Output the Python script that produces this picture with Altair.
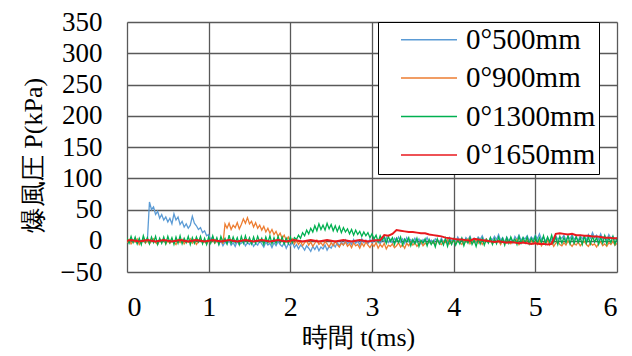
import altair as alt
import pandas as pd

series_names = ["0°500mm", "0°900mm", "0°1300mm", "0°1650mm"]
series_colors = ["#5B9BD5", "#ED7D31", "#00B050", "#E8191E"]

# fine time grid (ms) for the noisy gauges, coarse grid for the smooth 1650 mm trace
time_fine = [round(i * 0.025, 3) for i in range(241)]
time_coarse = [round(i * 0.05, 2) for i in range(121)]

p500 = [2, -3, 4, -1, 3, -4, 1, -2, 4, -3, 2, 62, 50, 54, 42, 47, 36, 42, 33, 38,
        30, 36, 27, 43, 33, 38, 26, 31, 22, 27, 20, 25, 39, 28, 24, 18, 21, 13, 16, 8,
        10, 2, 6, -3, 3, -6, 0, -8, -2, -5, 1, -7, -3, -9, -1, -6, -4, 0, -8, -3,
        -6, -1, -9, -4, -7, 0, -5, -10, -2, -7, -4, -11, -3, -8, -1, -6, -9, -3, -12, -5,
        -8, -2, -11, -6, -13, -7, -10, -15, -8, -12, -17, -9, -14, -8, -16, -10, -13, -7, -15, -9,
        -12, -5, -10, -3, -8, -2, -7, 1, -5, -1, -6, 2, -4, 0, -7, 3, -3, 1, -5, 2,
        -3, 4, -2, 1, -5, 3, -1, 5, -3, 2, -4, 4, 0, 6, -2, 3, -4, 5, -1, 2,
        -3, 4, -2, 3, -5, 2, -1, 5, -3, 1, -4, 3, 0, -2, 4, -3, 2, -4, 5, -1,
        3, -2, 6, 0, 4, -3, 5, 1, 7, -1, 4, -2, 6, 2, 8, 0, 3, -2, 5, 1,
        7, 2, 10, 1, 5, -2, 6, 0, 4, -3, 7, 2, 9, 1, 5, 3, 8, 0, 6, 2,
        9, 3, 11, 2, 6, -1, 5, -4, 3, 1, 8, 2, 6, 4, 9, 1, 7, 3, 10, 2,
        6, 0, 8, 3, 7, 1, 10, 4, 13, 5, 9, 2, 11, 3, 8, 1, 10, 4, 7, 2,
        5]
p900 = [-3, 2, -5, 0, -2, 3, -6, -1, 2, -4, 1, -5, 0, 3, -3, -6, 1, -2, 2, -5,
        0, -4, 3, -2, -6, 1, -3, 2, -5, 0, -2, 3, -4, 1, -6, -1, 2, -3, 0, -5,
        1, -3, 2, -4, 0, -2, 3, -5, 27, 20, 28, 18, 25, 21, 29, 19, 26, 35, 28, 37,
        27, 31, 22, 29, 20, 25, 17, 23, 14, 20, 12, 18, 10, 15, 7, 12, 4, 9, 1, 6,
        -2, 3, -5, 1, -6, -1, -8, -3, 0, -7, -2, -9, -4, 1, -6, -3, -8, -1, -5, -10,
        -3, -8, -1, -6, -10, -4, -7, -2, -9, -5, -11, -3, -8, -6, -12, -4, -9, -2, -7, -11,
        -5, -9, -3, -12, -6, -10, -4, -13, -7, -9, -5, -11, -8, -3, -10, -6, -12, -4, -8, -2,
        -7, -3, -9, -5, -1, -8, -4, -6, 0, -5, -2, -7, 1, -4, -6, -1, -3, 2, -5, -2,
        0, -4, 2, -3, -6, 1, -2, 3, -5, 0, -3, 2, -4, 1, -6, -1, 3, -2, 0, -5,
        2, -3, 0, -6, 1, -4, 3, -2, -5, 0, -3, 2, -6, -1, 1, -4, 3, -3, 0, -5,
        -2, -6, 0, -8, -3, -5, 1, -7, -2, -9, -4, -1, -6, -8, -3, -7, 0, -5, -9, -4,
        -7, -2, -8, -4, -1, -6, -9, -3, -7, -5, -10, -4, -2, -8, -5, -9, -3, -6, -1, -7,
        -4]
p1300 = [5, -4, 7, -3, 6, -5, 4, -6, 8, -2, 5, -5, 6, -3, 7, -6, 4, -4, 6, -5,
         7, -3, 5, -6, 6, -4, 8, -5, 4, -3, 7, -6, 5, -4, 6, -2, 7, -5, 4, -6,
         6, -4, 8, -3, 5, -6, 7, -2, 4, -5, 9, -4, 6, -3, 5, -6, 7, -4, 8, -3,
         5, -5, 6, -4, 7, -2, 4, -6, 6, -3, 8, -5, 5, -4, 7, -3, 6, -5, 4, -4,
         6, -3, 5, 2, 9, 4, 13, 8, 17, 11, 20, 14, 24, 16, 27, 18, 25, 17, 28, 19,
         26, 16, 24, 15, 23, 13, 21, 14, 19, 11, 18, 9, 17, 10, 15, 7, 14, 8, 13, 5,
         11, 3, 9, -2, 8, 1, 6, -4, 7, -1, 5, -6, 4, -3, 6, -7, 3, -2, 5, -8,
         2, -5, 4, -9, 1, -4, 3, -8, 2, -6, 0, -10, 3, -5, 1, -7, 4, -9, 2, -6,
         3, -7, 1, -5, 4, -8, 2, -4, 5, -6, 1, -9, 3, -5, 4, -7, 2, -4, 5, -6,
         3, -5, 6, -3, 4, -7, 5, -4, 6, -2, 3, -6, 7, -4, 5, -3, 6, -5, 4, -2,
         7, -4, 5, -3, 8, -5, 6, -2, 9, -3, 6, -6, 7, -4, 5, -3, 8, -5, 6, -4,
         7, -3, 5, -6, 8, -4, 6, -5, 7, -2, 5, -6, 6, -4, 8, -5, 5, -3, 7, -6,
         4]
p1650 = [0, 1, 0, -1, 0, 1, 0, -1, 0, 1, 0, -1, 0, 1, 0, -1, 0, 1, 0, -1,
         0, 1, 0, -1, 0, 1, 0, -1, 0, 1, 0, -1, 0, 1, 0, -1, 0, 1, 0, -1,
         0, 1, 0, -1, 0, 1, 0, -1, 0, 1, 0, -1, 0, 1, 0, -1, 0, 1, 0, -1,
         0, 1, 1, 9, 8, 11, 17, 16, 15, 14, 14, 13, 12, 12, 10, 9, 8, 7, 5, 4,
         3, 2, 2, 1, 0, 3, 2, 1, 0, -1, -2, -1, -2, -3, -2, -3, -4, -3, -4, -5,
         -4, -5, -5, -6, -5, 11, 12, 11, 10, 11, 9, 9, 8, 8, 7, 7, 6, 5, 5, 4,
         4]

x_ticks = [0, 1, 2, 3, 4, 5, 6]
y_ticks = [-50, 0, 50, 100, 150, 200, 250, 300, 350]

rows = []
for name, times, vals in zip(series_names,
                             [time_fine, time_fine, time_fine, time_coarse],
                             [p500, p900, p1300, p1650]):
    for t, v in zip(times, vals):
        rows.append({"t": t, "P": v, "series": name})
df = pd.DataFrame(rows)

FONT = "'Liberation Serif', 'Times New Roman', serif"

color = alt.Color(
    "series:N",
    scale=alt.Scale(domain=series_names, range=series_colors),
    legend=alt.Legend(
        title=None,
        orient="none",
        legendX=251,
        legendY=0,
        fillColor="white",
        strokeColor="black",
        padding=3.2,
        symbolType="M-8,0H8",
        symbolSize=49,
        symbolStrokeWidth=1.5,
        symbolFillColor="transparent",
        symbolOffset=33.3,
        labelOffset=22.5,
        labelFont=FONT,
        labelFontSize=29,
        labelColor="black",
        rowPadding=8.4,
        labelExpr="datum.label + '  '",
    ),
)

x = alt.X(
    "t:Q",
    scale=alt.Scale(domain=[0, 6], nice=False),
    axis=alt.Axis(
        values=x_ticks, format="d", title="時間 t(ms)", ticks=False, domain=False,
        labelFont=FONT, labelFontSize=28, labelColor="black", labelPadding=21,
        titleFont=FONT, titleFontSize=26, titleFontWeight="normal", titleColor="black",
        titlePadding=3, titleX=231, gridColor="#595959", gridWidth=1.3, gridOpacity=1,
    ),
)
y = alt.Y(
    "P:Q",
    scale=alt.Scale(domain=[-50, 350], nice=False),
    axis=alt.Axis(
        values=y_ticks, title="爆風圧 P(kPa)", ticks=False, domain=False,
        labelFont=FONT, labelFontSize=27, labelColor="black", labelPadding=25,
        titleFont=FONT, titleFontSize=26, titleFontWeight="normal", titleColor="black",
        titlePadding=13, titleY=133, gridColor="#595959", gridWidth=1.3, gridOpacity=1,
    ),
)

layers = []
for name in series_names:
    sw = 2 if name == "0°1650mm" else 1.3
    layers.append(
        alt.Chart(df)
        .transform_filter(alt.datum.series == name)
        .mark_line(strokeWidth=sw, clip=True)
        .encode(x=x, y=y, color=color)
    )

chart = (
    alt.layer(*layers)
    .properties(
        width=490,
        height=250,
        autosize=alt.AutoSizeParams(type="none"),
        padding={"left": 119, "top": 14, "right": 7, "bottom": 80},
    )
    .configure_view(stroke="black", strokeWidth=1.5)
    .configure(background="white", font=FONT)
)

chart.save("out.html", embed_options={"renderer": "svg", "actions": False})
